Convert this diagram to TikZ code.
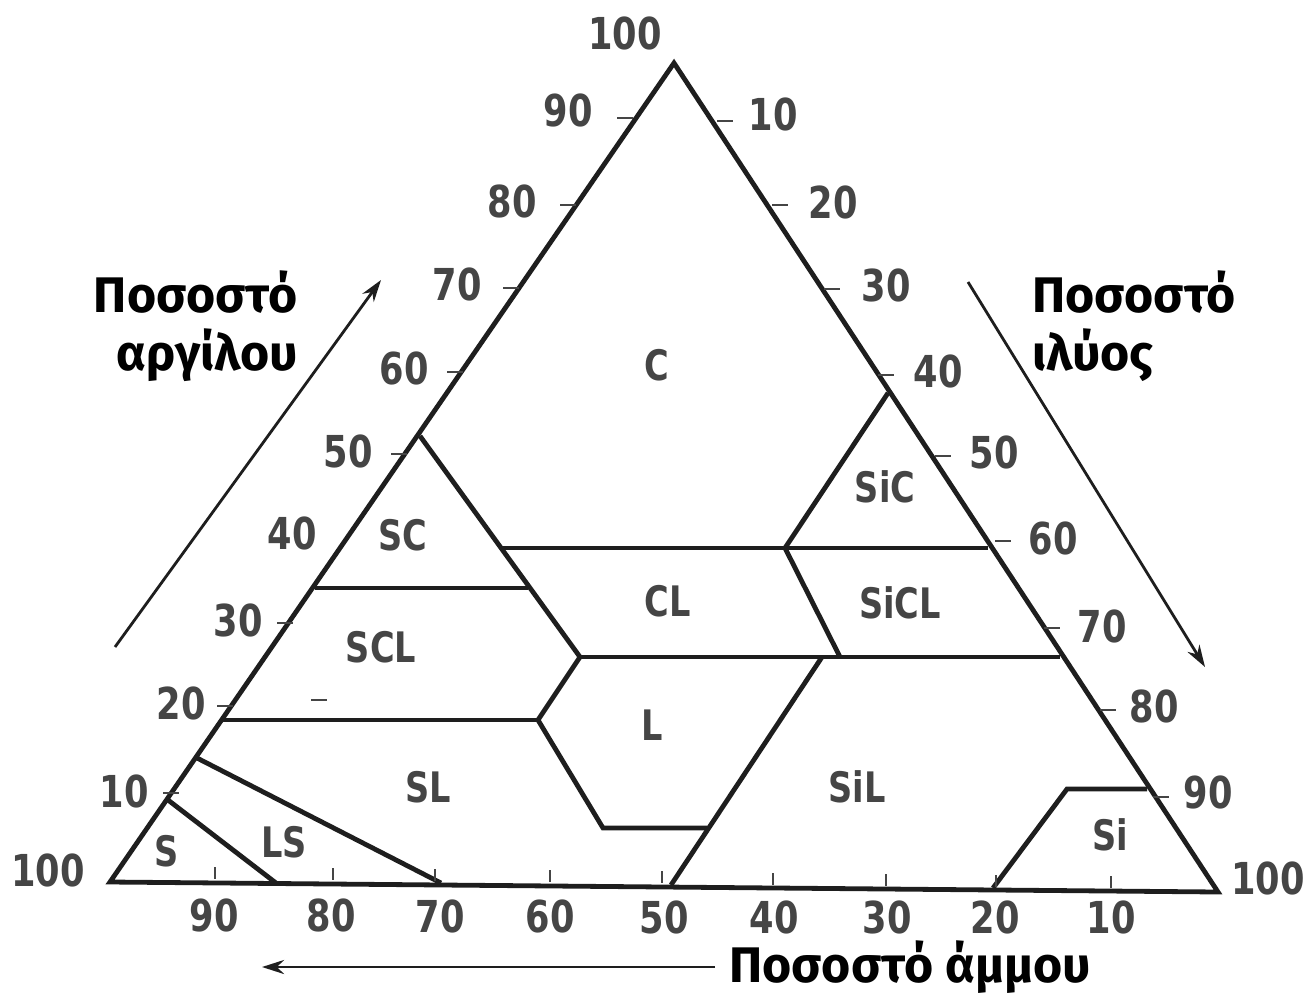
\documentclass[tikz,border=0pt]{standalone}
\usepackage{fontspec}
\newfontfamily\numfont[FakeStretch=0.8]{DejaVu Sans}
\newfontfamily\grfont{Fira Sans}
\usetikzlibrary{arrows.meta}
\definecolor{ink}{HTML}{1E1E1E}
\definecolor{numgray}{HTML}{454545}
\tikzset{
  border/.style={line width=4.8pt, draw=ink, line join=miter},
  num/.style={font=\numfont\bfseries\fontsize{44}{44}\selectfont, text=numgray, inner sep=0pt},
  cls/.style={font=\numfont\bfseries\fontsize{42}{42}\selectfont, text=numgray, inner sep=0pt},
  tickmark/.style={line width=2.2pt, draw=numgray},
  axislabel/.style={font=\grfont\bfseries\fontsize{50}{58}\selectfont, text=black, inner sep=0pt},
  axisarrow/.style={line width=2.8pt, draw=ink, -{Stealth[length=22pt,width=14pt]}},
}
\begin{document}
\begin{tikzpicture}[x=1pt, y=-1pt]
\useasboundingbox (0,0) rectangle (1313,993);

% corners of the texture triangle
\coordinate (A) at (674,63);    % 100 % clay
\coordinate (B) at (110,882);   % 100 % sand
\coordinate (R) at (1218,892);  % 100 % silt

% class boundary points
\coordinate (sc1) at (420,436);
\coordinate (sc2) at (503,548);
\coordinate (scl1) at (315,588);
\coordinate (scl2) at (528,588);
\coordinate (cl1) at (580,657);
\coordinate (sic1) at (888,393);
\coordinate (sic2) at (785,548);
\coordinate (sic3) at (988,548);
\coordinate (sicl1) at (840,657);
\coordinate (sicl2) at (1060,657);
\coordinate (sl1) at (222,720);
\coordinate (sl2) at (538,720);
\coordinate (l1) at (603,828);
\coordinate (l2) at (707,828);
\coordinate (sil1) at (822,657);
\coordinate (sil2) at (671,885);
\coordinate (ls1) at (197,758);
\coordinate (ls2) at (441,883);
\coordinate (s1) at (168,800);
\coordinate (s2) at (276,883);
\coordinate (si1) at (993,888);
\coordinate (si2) at (1067,789);
\coordinate (si3) at (1147,789);

% outline
\draw[border] (B) -- (A) -- (R) -- cycle;

% class boundaries
\draw[border] (sc1) -- (cl1);
\draw[border] (sc2) -- (sic3);
\draw[border] (scl1) -- (scl2);
\draw[border] (cl1) -- (sicl2);
\draw[border] (sic2) -- (sic1);
\draw[border] (sic2) -- (sicl1);
\draw[border] (sl1) -- (sl2);
\draw[border] (cl1) -- (sl2) -- (l1) -- (l2);
\draw[border] (sil1) -- (sil2);
\draw[border] (ls1) -- (ls2);
\draw[border] (s1) -- (s2);
\draw[border] (si1) -- (si2) -- (si3);

% class names
\node[cls] (nC) at (657,365) {C};
\node[cls] (nSiC) at (885,487) {SiC};
\node[cls] (nSC) at (403,535) {SC};
\node[cls] (nCL) at (668,601) {CL};
\node[cls] (nSiCL) at (900,603) {SiCL};
\node[cls] (nSCL) at (381,647) {SCL};
\node[cls] (nL) at (652,725) {L};
\node[cls] (nSL) at (428,787) {SL};
\node[cls] (nSiL) at (857,787) {SiL};
\node[cls] (nS) at (167,851) {S};
\node[cls] (nLS) at (284,842) {LS};
\node[cls] (nSi) at (1110,835) {Si};

% clay scale (left side)
\node[num] (c100) at (625,33) {100};
\node[num] (c90) at (568,110) {90};
\node[num] (c80) at (512,201) {80};
\node[num] (c70) at (457,284) {70};
\node[num] (c60) at (404,368) {60};
\node[num] (c50) at (348,451) {50};
\node[num] (c40) at (292,533) {40};
\node[num] (c30) at (238,620) {30};
\node[num] (c20) at (181,703) {20};
\node[num] (c10) at (124,791) {10};
\node[num] (c0) at (48,870) {100};
\foreach \xa/\ya in {617/118, 560/205, 503/288, 447/372, 391/454, 277/623, 217/706, 163/793, 311/700}
  \draw[tickmark] (\xa,\ya) -- ++(16,0);

% silt scale (right side)
\node[num] (s10) at (773,114) {10};
\node[num] (s20) at (833,202) {20};
\node[num] (s30) at (886,285) {30};
\node[num] (s40) at (938,371) {40};
\node[num] (s50) at (994,452) {50};
\node[num] (s60) at (1053,538) {60};
\node[num] (s70) at (1102,626) {70};
\node[num] (s80) at (1154,706) {80};
\node[num] (s90) at (1208,792) {90};
\node[num] (s100) at (1268,878) {100};
\foreach \xa/\ya in {717/121, 772/205, 824/289, 878/375, 935/456, 995/541, 1044/628, 1100/710, 1153/797}
  \draw[tickmark] (\xa,\ya) -- ++(16,0);

% sand scale (bottom)
\node[num] (a90) at (214,915) {90};
\node[num] (a80) at (331,915) {80};
\node[num] (a70) at (440,916) {70};
\node[num] (a60) at (550,916) {60};
\node[num] (a50) at (664,917) {50};
\node[num] (a40) at (774,917) {40};
\node[num] (a30) at (887,917) {30};
\node[num] (a20) at (995,917) {20};
\node[num] (a10) at (1111,917) {10};
\foreach \xa/\ya in {215/867, 333/868, 435/869, 550/870, 662/871, 773/873, 886/874, 996/875, 1111/876}
  \draw[tickmark] (\xa,\ya) -- ++(0,12);

% axis titles
\node[axislabel, anchor=east, align=right] (tclay) at (298,326) {Ποσοστό\\αργίλου};
\node[axislabel, anchor=west, align=left] (tsilt) at (1032,326) {Ποσοστό\\ιλύος};
\node[axislabel, anchor=base] (tsand) at (910,982) {Ποσοστό άμμου};

% direction arrows
\coordinate (ca1) at (115,647);
\coordinate (ca2) at (381,280);
\coordinate (sa1) at (968,282);
\coordinate (sa2) at (1205,667);
\coordinate (aa1) at (715,967);
\coordinate (aa2) at (262,967);
\draw[axisarrow] (ca1) -- (ca2);
\draw[axisarrow] (sa1) -- (sa2);
\draw[axisarrow] (aa1) -- (aa2);
\end{tikzpicture}
\end{document}
